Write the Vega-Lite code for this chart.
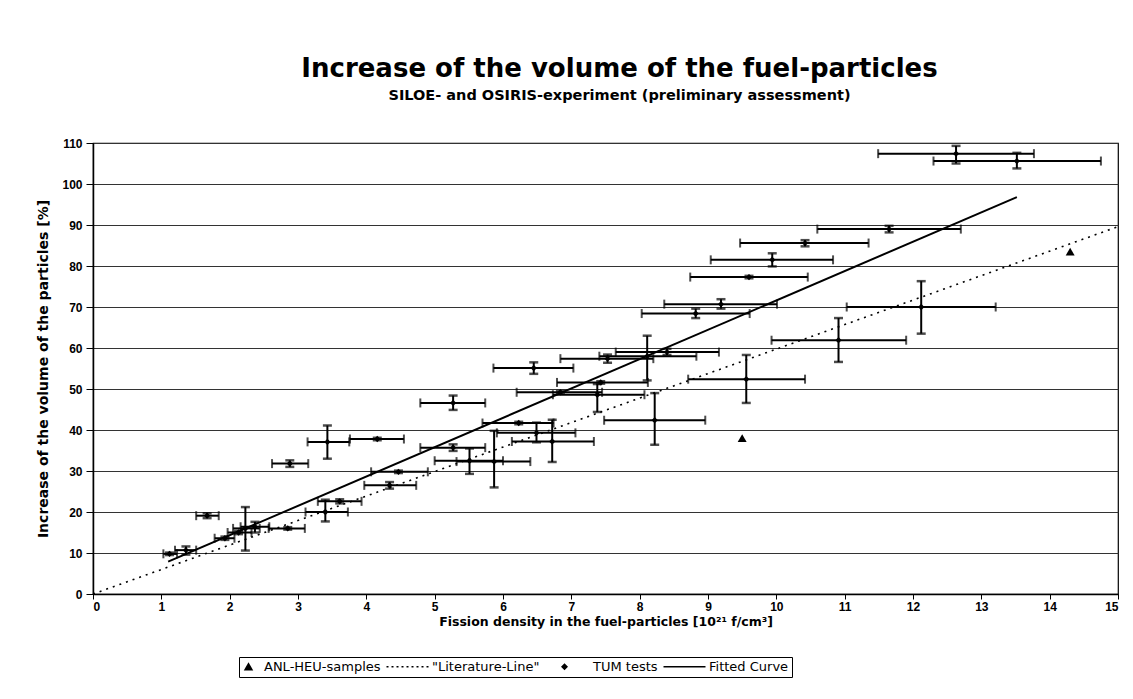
{
  "$schema": "https://vega.github.io/schema/vega-lite/v6.json",
  "width": 1025,
  "height": 451,
  "padding": {"left": 36, "top": 55, "right": 5, "bottom": 5},
  "background": "white",
  "title": {
    "text": "Increase of the volume of the fuel-particles",
    "subtitle": "SILOE- and OSIRIS-experiment (preliminary assessment)",
    "font": "DejaVu Sans",
    "subtitleFont": "DejaVu Sans",
    "fontSize": 26,
    "fontWeight": "bold",
    "color": "black",
    "subtitleFontSize": 14.5,
    "subtitleFontWeight": "bold",
    "subtitleColor": "black",
    "subtitlePadding": 7,
    "anchor": "middle",
    "offset": 35,
    "dx": 14
  },
  "datasets": {
    "tum": [
      {"x": 1.12, "y": 9.8, "xlo": 1.03, "xhi": 1.23, "ylo": 9.5, "yhi": 10.1},
      {"x": 1.36, "y": 10.7, "xlo": 1.2, "xhi": 1.51, "ylo": 9.6, "yhi": 11.6},
      {"x": 1.67, "y": 19.1, "xlo": 1.51, "xhi": 1.84, "ylo": 18.5, "yhi": 19.7},
      {"x": 1.93, "y": 13.6, "xlo": 1.78, "xhi": 2.07, "ylo": 13.2, "yhi": 14.0},
      {"x": 2.23, "y": 16.0, "xlo": 2.05, "xhi": 2.44, "ylo": 10.6, "yhi": 21.2},
      {"x": 2.37, "y": 16.4, "xlo": 2.16, "xhi": 2.58, "ylo": 15.0, "yhi": 17.6},
      {"x": 2.13, "y": 15.0, "xlo": 1.97, "xhi": 2.32, "ylo": 14.6, "yhi": 15.4},
      {"x": 2.85, "y": 16.0, "xlo": 2.57, "xhi": 3.1, "ylo": 15.7, "yhi": 16.3},
      {"x": 2.88, "y": 31.8, "xlo": 2.62, "xhi": 3.15, "ylo": 31.0, "yhi": 32.6},
      {"x": 3.43, "y": 37.1, "xlo": 3.14, "xhi": 3.75, "ylo": 33.0, "yhi": 41.1},
      {"x": 4.16, "y": 37.8, "xlo": 3.76, "xhi": 4.55, "ylo": 37.5, "yhi": 38.1},
      {"x": 3.4, "y": 20.0, "xlo": 3.11, "xhi": 3.73, "ylo": 17.7, "yhi": 23.0},
      {"x": 3.61, "y": 22.6, "xlo": 3.29, "xhi": 3.93, "ylo": 22.1, "yhi": 23.1},
      {"x": 4.34, "y": 26.5, "xlo": 3.97, "xhi": 4.73, "ylo": 25.7, "yhi": 27.3},
      {"x": 4.47, "y": 29.8, "xlo": 4.07, "xhi": 4.9, "ylo": 29.5, "yhi": 30.1},
      {"x": 5.27, "y": 35.7, "xlo": 4.79, "xhi": 5.74, "ylo": 34.9, "yhi": 36.5},
      {"x": 5.51, "y": 32.5, "xlo": 5.0, "xhi": 6.0, "ylo": 29.3, "yhi": 35.5},
      {"x": 5.87, "y": 32.3, "xlo": 5.32, "xhi": 6.4, "ylo": 26.0, "yhi": 39.8},
      {"x": 6.23, "y": 41.7, "xlo": 5.7, "xhi": 6.74, "ylo": 41.4, "yhi": 42.0},
      {"x": 6.49, "y": 39.3, "xlo": 5.91, "xhi": 7.06, "ylo": 37.0, "yhi": 41.8},
      {"x": 6.72, "y": 37.2, "xlo": 6.13, "xhi": 7.33, "ylo": 32.2, "yhi": 42.5},
      {"x": 6.45, "y": 55.1, "xlo": 5.86, "xhi": 7.03, "ylo": 53.7, "yhi": 56.5},
      {"x": 5.27, "y": 46.6, "xlo": 4.79, "xhi": 5.74, "ylo": 44.9, "yhi": 48.4},
      {"x": 7.43, "y": 51.6, "xlo": 6.79, "xhi": 8.12, "ylo": 51.3, "yhi": 51.9},
      {"x": 6.84, "y": 49.2, "xlo": 6.2, "xhi": 7.45, "ylo": 48.9, "yhi": 49.5},
      {"x": 7.38, "y": 48.6, "xlo": 6.73, "xhi": 8.07, "ylo": 44.4, "yhi": 51.2},
      {"x": 7.53, "y": 57.4, "xlo": 6.84, "xhi": 8.2, "ylo": 56.4, "yhi": 58.4},
      {"x": 8.11, "y": 58.0, "xlo": 7.41, "xhi": 8.83, "ylo": 52.1, "yhi": 63.0},
      {"x": 8.4, "y": 59.0, "xlo": 7.65, "xhi": 9.16, "ylo": 58.3, "yhi": 59.8},
      {"x": 8.22, "y": 42.4, "xlo": 7.48, "xhi": 8.96, "ylo": 36.4, "yhi": 49.0},
      {"x": 8.82, "y": 68.4, "xlo": 8.03, "xhi": 9.61, "ylo": 67.3, "yhi": 69.6},
      {"x": 9.19, "y": 70.7, "xlo": 8.36, "xhi": 10.01, "ylo": 69.6, "yhi": 71.9},
      {"x": 9.6, "y": 77.3, "xlo": 8.74, "xhi": 10.46, "ylo": 77.0, "yhi": 77.6},
      {"x": 9.94, "y": 81.5, "xlo": 9.04, "xhi": 10.83, "ylo": 79.9, "yhi": 83.1},
      {"x": 10.42, "y": 85.6, "xlo": 9.47, "xhi": 11.35, "ylo": 84.8, "yhi": 86.3},
      {"x": 11.65, "y": 89.0, "xlo": 10.6, "xhi": 12.7, "ylo": 88.2, "yhi": 89.8},
      {"x": 12.63, "y": 107.4, "xlo": 11.49, "xhi": 13.77, "ylo": 105.0, "yhi": 109.3},
      {"x": 13.52, "y": 105.6, "xlo": 12.3, "xhi": 14.75, "ylo": 103.8, "yhi": 107.6},
      {"x": 12.12, "y": 70.0, "xlo": 11.03, "xhi": 13.21, "ylo": 63.5, "yhi": 76.3},
      {"x": 10.91, "y": 61.9, "xlo": 9.93, "xhi": 11.9, "ylo": 56.6, "yhi": 67.3},
      {"x": 9.56, "y": 52.4, "xlo": 8.71, "xhi": 10.42, "ylo": 46.6, "yhi": 58.3}
    ],
    "anl": [
      {"x": 14.3, "y": 83.5},
      {"x": 9.5, "y": 38.0}
    ],
    "lit": [
      {"x": 0, "y": 0},
      {"x": 15, "y": 89.6}
    ],
    "fit": [
      {"x": 1.1, "y": 7.9},
      {"x": 13.52, "y": 96.8}
    ],
    "legend": [
      {"series": "ANL-HEU-samples"},
      {"series": "\"Literature-Line\""},
      {"series": "TUM tests"},
      {"series": "Fitted Curve"}
    ]
  },
  "layer": [
    {
      "data": {"name": "lit"},
      "mark": {"type": "line", "color": "black", "strokeWidth": 1.6, "strokeDash": [2, 5]},
      "encoding": {
        "x": {
          "field": "x", "type": "quantitative",
          "title": "Fission density in the fuel-particles [10²¹ f/cm³]",
          "scale": {"domain": [0, 15], "nice": false, "zero": false},
          "axis": {
            "values": [0,1,2,3,4,5,6,7,8,9,10,11,12,13,14,15],
            "grid": false, "tickSize": 5, "labelPadding": 2, "titlePadding": 3,
            "titleFontSize": 12.5,
            "format": "d"
          }
        },
        "y": {
          "field": "y", "type": "quantitative",
          "title": "Increase of the volume of the particles [%]",
          "scale": {"domain": [0, 110], "nice": false, "zero": false},
          "axis": {
            "values": [0,10,20,30,40,50,60,70,80,90,100,110],
            "grid": true, "tickSize": 7, "labelPadding": 4, "titlePadding": 11,
            "titleFontSize": 14,
            "format": "d"
          }
        }
      }
    },
    {
      "data": {"name": "fit"},
      "mark": {"type": "line", "color": "black", "strokeWidth": 2},
      "encoding": {
        "x": {"field": "x", "type": "quantitative", "title": "Fission density in the fuel-particles [10²¹ f/cm³]"},
        "y": {"field": "y", "type": "quantitative", "title": "Increase of the volume of the particles [%]"}
      }
    },
    {
      "data": {"name": "tum"},
      "mark": {"type": "rule", "color": "black", "strokeWidth": 2},
      "encoding": {
        "x": {"field": "xlo", "type": "quantitative", "title": "Fission density in the fuel-particles [10²¹ f/cm³]"},
        "x2": {"field": "xhi"},
        "y": {"field": "y", "type": "quantitative", "title": "Increase of the volume of the particles [%]"}
      }
    },
    {
      "data": {"name": "tum"},
      "mark": {"type": "rule", "color": "black", "strokeWidth": 2},
      "encoding": {
        "x": {"field": "x", "type": "quantitative", "title": "Fission density in the fuel-particles [10²¹ f/cm³]"},
        "y": {"field": "ylo", "type": "quantitative", "title": "Increase of the volume of the particles [%]"},
        "y2": {"field": "yhi"}
      }
    },
    {
      "data": {"name": "tum"},
      "mark": {"type": "tick", "color": "black", "orient": "vertical", "size": 9, "thickness": 2},
      "encoding": {
        "x": {"field": "xlo", "type": "quantitative", "title": "Fission density in the fuel-particles [10²¹ f/cm³]"},
        "y": {"field": "y", "type": "quantitative", "title": "Increase of the volume of the particles [%]"}
      }
    },
    {
      "data": {"name": "tum"},
      "mark": {"type": "tick", "color": "black", "orient": "vertical", "size": 9, "thickness": 2},
      "encoding": {
        "x": {"field": "xhi", "type": "quantitative", "title": "Fission density in the fuel-particles [10²¹ f/cm³]"},
        "y": {"field": "y", "type": "quantitative", "title": "Increase of the volume of the particles [%]"}
      }
    },
    {
      "data": {"name": "tum"},
      "mark": {"type": "tick", "color": "black", "orient": "horizontal", "size": 9, "thickness": 2.5},
      "encoding": {
        "x": {"field": "x", "type": "quantitative", "title": "Fission density in the fuel-particles [10²¹ f/cm³]"},
        "y": {"field": "ylo", "type": "quantitative", "title": "Increase of the volume of the particles [%]"}
      }
    },
    {
      "data": {"name": "tum"},
      "mark": {"type": "tick", "color": "black", "orient": "horizontal", "size": 9, "thickness": 2.5},
      "encoding": {
        "x": {"field": "x", "type": "quantitative", "title": "Fission density in the fuel-particles [10²¹ f/cm³]"},
        "y": {"field": "yhi", "type": "quantitative", "title": "Increase of the volume of the particles [%]"}
      }
    },
    {
      "data": {"name": "tum"},
      "mark": {"type": "point", "shape": "diamond", "filled": true, "color": "black", "size": 40, "opacity": 1},
      "encoding": {
        "x": {"field": "x", "type": "quantitative", "title": "Fission density in the fuel-particles [10²¹ f/cm³]"},
        "y": {"field": "y", "type": "quantitative", "title": "Increase of the volume of the particles [%]"}
      }
    },
    {
      "data": {"name": "anl"},
      "mark": {"type": "point", "shape": "triangle-up", "filled": true, "color": "black", "size": 80, "opacity": 1},
      "encoding": {
        "x": {"field": "x", "type": "quantitative", "title": "Fission density in the fuel-particles [10²¹ f/cm³]"},
        "y": {"field": "y", "type": "quantitative", "title": "Increase of the volume of the particles [%]"}
      }
    },
    {
      "data": {"name": "legend"},
      "mark": {"type": "point", "filled": true, "color": "black", "opacity": 0},
      "encoding": {
        "shape": {
          "field": "series", "type": "nominal",
          "scale": {
            "domain": ["ANL-HEU-samples", "\"Literature-Line\"", "TUM tests", "Fitted Curve"],
            "range": [
              "M0,-0.9L0.95,0.75L-0.95,0.75Z",
              "M-6,-0.16h0.4v0.32h-0.4ZM-5,-0.16h0.4v0.32h-0.4ZM-4,-0.16h0.4v0.32h-0.4ZM-3,-0.16h0.4v0.32h-0.4ZM-2,-0.16h0.4v0.32h-0.4ZM-1,-0.16h0.4v0.32h-0.4ZM0,-0.16h0.4v0.32h-0.4ZM1,-0.16h0.4v0.32h-0.4ZM2,-0.16h0.4v0.32h-0.4Z",
              "M-6.4,0L-6.4,0M-2.6,-0.7L-1.9,0L-2.6,0.7L-3.3,0Z",
              "M-6,-0.16L2.4,-0.16L2.4,0.16L-6,0.16Z"
            ]
          },
          "legend": {
            "title": null,
            "orient": "none",
            "legendX": 146,
            "legendY": 514,
            "direction": "horizontal",
            "symbolSize": 100,
            "symbolOpacity": 1,
            "labelFont": "DejaVu Sans",
            "labelFontSize": 13,
            "labelColor": "black",
            "labelOffset": 9,
            "columnPadding": 2,
            "strokeColor": "black",
            "padding": 3,
            "encode": {
              "symbols": {
                "fill": {"value": "black"},
                "opacity": {"value": 1}
              }
            }
          }
        }
      }
    }
  ],
  "config": {
    "font": "Liberation Sans",
    "view": {"stroke": "black", "strokeWidth": 1.2},
    "axis": {
      "labelFont": "Liberation Sans",
      "labelFontWeight": "bold",
      "labelFontSize": 12,
      "labelColor": "black",
      "titleFont": "DejaVu Sans",
      "titleFontWeight": "bold",
      "titleColor": "black",
      "domainColor": "black",
      "domainWidth": 1.5,
      "tickColor": "black",
      "gridColor": "#333",
      "gridWidth": 1
    }
  }
}
